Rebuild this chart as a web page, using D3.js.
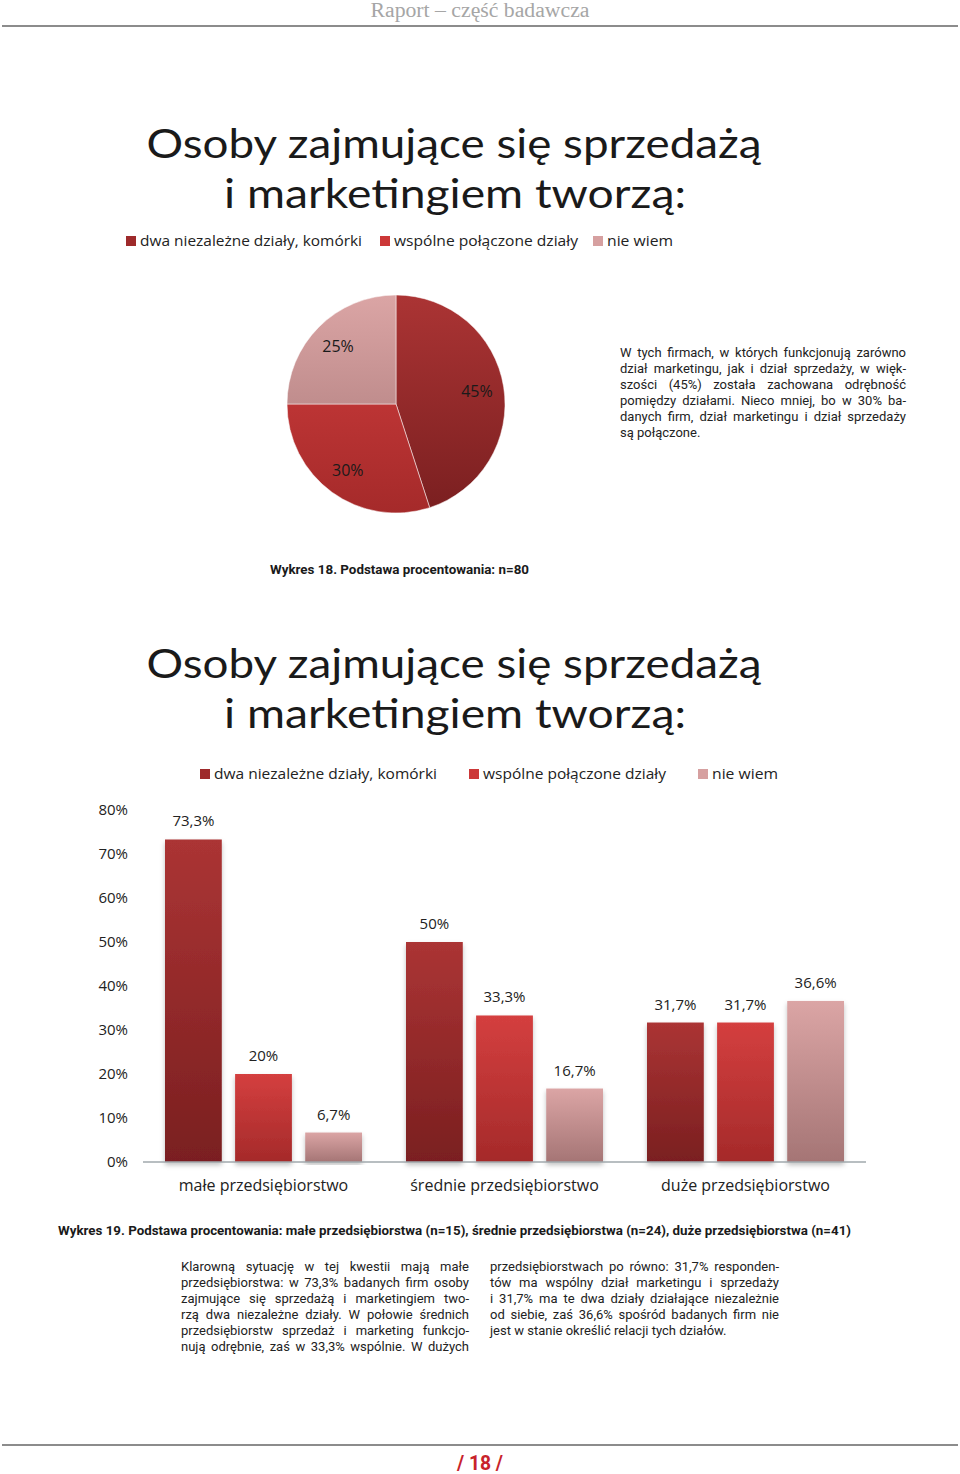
<!DOCTYPE html>
<html><head><meta charset="utf-8">
<script src="https://cdn.jsdelivr.net/npm/d3@7"></script>
<style>body{margin:0;background:#fff}svg{display:block}</style>
</head><body>
<script>
// ---- data ----
const pieLabels = ["dwa niezależne działy, komórki", "wspólne połączone działy", "nie wiem"];
const pieValues = [45, 30, 25];
const categories = ["małe przedsiębiorstwo", "średnie przedsiębiorstwo", "duże przedsiębiorstwo"];
const seriesNames = ["dwa niezależne działy, komórki", "wspólne połączone działy", "nie wiem"];
const seriesIndependent = [73.3, 50, 31.7];
const seriesJoint = [20, 33.3, 31.7];
const seriesUnknown = [6.7, 16.7, 36.6];
const yTicks = [0, 10, 20, 30, 40, 50, 60, 70, 80];
const fmt = v => String(v).replace(".", ",") + "%";

const W = 960, H = 1474;
const svg = d3.select("body").append("svg").attr("width", W).attr("height", H);
const defs = svg.append("defs");

const colTop = ["#ab3434", "#d43f3f", "#dba5a5"];
const colBot = ["#7a1f20", "#a52a2a", "#a57575"];
const legendCol = ["#9e2a2b", "#cc3838", "#d6a0a0"];
colTop.forEach((c, i) => {
  const g = defs.append("linearGradient").attr("id", "bg" + i).attr("x1", 0).attr("y1", 0).attr("x2", 0).attr("y2", 1);
  g.append("stop").attr("offset", "0%").attr("stop-color", c);
  g.append("stop").attr("offset", "100%").attr("stop-color", colBot[i]);
});
const sh = defs.append("filter").attr("id", "shadow").attr("x", "-20%").attr("y", "-5%").attr("width", "140%").attr("height", "115%");
sh.append("feDropShadow").attr("dx", 0).attr("dy", 3).attr("stdDeviation", 2.5).attr("flood-color", "#000").attr("flood-opacity", 0.25);

// ---- header / footer ----
svg.append("text").attr("x", 480).attr("y", 17).attr("text-anchor", "middle")
  .attr("font-family", "Liberation Serif").attr("font-size", 20).attr("fill", "#a6a6a6")
  .attr("textLength", 219).attr("lengthAdjust", "spacingAndGlyphs").text("Raport – część badawcza");
svg.append("line").attr("x1", 2).attr("x2", 958).attr("y1", 26).attr("y2", 26).attr("stroke", "#8c8c8c").attr("stroke-width", 2);
svg.append("line").attr("x1", 2).attr("x2", 958).attr("y1", 1445).attr("y2", 1445).attr("stroke", "#8c8c8c").attr("stroke-width", 2);
svg.append("text").attr("x", 480).attr("y", 1470).attr("text-anchor", "middle")
  .attr("font-family", "Roboto").attr("font-weight", 700).attr("font-size", 20).attr("fill", "#c8232b")
  .attr("textLength", 46).attr("lengthAdjust", "spacingAndGlyphs").text("/ 18 /");

// ---- titles ----
function title(y) {
  svg.append("text").attr("x", 454).attr("y", y).attr("text-anchor", "middle")
    .attr("font-family", "Lato").attr("font-weight", 400).attr("font-size", 41).attr("fill", "#1a1a1a")
    .attr("textLength", 615).attr("lengthAdjust", "spacingAndGlyphs").text("Osoby zajmujące się sprzedażą");
  svg.append("text").attr("x", 455).attr("y", y + 50).attr("text-anchor", "middle")
    .attr("font-family", "Lato").attr("font-weight", 400).attr("font-size", 41).attr("fill", "#1a1a1a")
    .attr("textLength", 462).attr("lengthAdjust", "spacingAndGlyphs").text("i marketingiem tworzą:");
}
title(158);
title(678);

// ---- legend helper ----
function legend(y, xs, widths, names) {
  names.forEach((n, i) => {
    svg.append("rect").attr("x", xs[i]).attr("y", y - 10).attr("width", 10).attr("height", 10).attr("fill", legendCol[i]);
    svg.append("text").attr("x", xs[i] + 14).attr("y", y).attr("font-family", "Open Sans").attr("font-size", 15)
      .attr("fill", "#222").attr("textLength", widths[i]).attr("lengthAdjust", "spacingAndGlyphs").text(n);
  });
}
legend(246, [126, 380, 593], [222, 184, 66], pieLabels);

// ---- pie ----
const cx = 396, cy = 404, R = 109;
const pieGen = d3.pie().sort(null).value(d => d);
const arc = d3.arc().innerRadius(0).outerRadius(R);
const labelArc = d3.arc().innerRadius(82).outerRadius(82);
colTop.forEach((c, i) => {
  const g = defs.append("linearGradient").attr("id", "pg" + i).attr("gradientUnits", "userSpaceOnUse")
    .attr("x1", 0).attr("y1", -R).attr("x2", 0).attr("y2", R);
  g.append("stop").attr("offset", "0%").attr("stop-color", c);
  g.append("stop").attr("offset", "100%").attr("stop-color", colBot[i]);
});
const pg = svg.append("g").attr("transform", `translate(${cx},${cy})`);
const arcs = pieGen(pieValues);
pg.selectAll("path").data(arcs).enter().append("path").attr("d", arc)
  .attr("fill", (d, i) => `url(#pg${i})`).attr("stroke", "#fff").attr("stroke-width", 0.5);
pg.selectAll("text").data(arcs).enter().append("text")
  .attr("x", d => labelArc.centroid(d)[0]).attr("y", d => labelArc.centroid(d)[1] + 6)
  .attr("text-anchor", "middle").attr("font-family", "Open Sans").attr("font-size", 16).attr("fill", "#1a1a1a")
  .text(d => d.data + "%");

// ---- justified paragraphs ----
function para(x, y, width, lines, lastJustified, size, lh) {
  lines.forEach((ln, li) => {
    const words = ln.split(" ");
    const yy = y + li * lh;
    const justify = li < lines.length - 1 || lastJustified;
    if (!justify) {
      svg.append("text").attr("x", x).attr("y", yy).attr("font-family", "Roboto").attr("font-size", size)
        .attr("fill", "#222").text(ln);
      return;
    }
    const ws = words.map(w => {
      const t = svg.append("text").attr("font-family", "Roboto").attr("font-size", size).text(w);
      const l = t.node().getComputedTextLength(); t.remove(); return l;
    });
    const total = d3.sum(ws);
    const gap = (width - total) / Math.max(1, words.length - 1);
    let cxp = x;
    words.forEach((w, wi) => {
      svg.append("text").attr("x", cxp).attr("y", yy).attr("font-family", "Roboto").attr("font-size", size)
        .attr("fill", "#222").text(w);
      cxp += ws[wi] + gap;
    });
  });
}
para(620, 357, 286, [
  "W tych firmach, w których funkcjonują zarówno",
  "dział marketingu, jak i dział sprzedaży, w więk-",
  "szości (45%) została zachowana odrębność",
  "pomiędzy działami. Nieco mniej, bo w 30% ba-",
  "danych firm, dział marketingu i dział sprzedaży",
  "są połączone."], false, 13, 16);

// ---- captions ----
svg.append("text").attr("x", 270).attr("y", 574).attr("font-family", "Roboto").attr("font-weight", 700)
  .attr("font-size", 13).attr("fill", "#1a1a1a").attr("textLength", 259).attr("lengthAdjust", "spacingAndGlyphs")
  .text("Wykres 18. Podstawa procentowania: n=80");
svg.append("text").attr("x", 58).attr("y", 1235).attr("font-family", "Roboto").attr("font-weight", 700)
  .attr("font-size", 13).attr("fill", "#1a1a1a").attr("textLength", 793).attr("lengthAdjust", "spacingAndGlyphs")
  .text("Wykres 19. Podstawa procentowania: małe przedsiębiorstwa (n=15), średnie przedsiębiorstwa (n=24), duże przedsiębiorstwa (n=41)");

// ---- bar chart ----
legend(779, [200, 469, 698], [223, 183, 66], seriesNames);
const y = d3.scaleLinear().domain([0, 80]).range([1162, 810]);
const x0 = d3.scaleBand().domain(categories).range([143, 866]).paddingInner(0).paddingOuter(0);
const x1 = d3.scaleBand().domain([0, 1, 2]).range([22, 219]).paddingInner(0.19).paddingOuter(0);
const series = [seriesIndependent, seriesJoint, seriesUnknown];

svg.append("g").selectAll("text").data(yTicks).enter().append("text")
  .attr("x", 128).attr("y", d => y(d) + 5).attr("text-anchor", "end")
  .attr("font-family", "Open Sans").attr("font-size", 15).attr("fill", "#222").text(d => d + "%");

const bg = svg.append("g");
categories.forEach((c, ci) => {
  series.forEach((s, si) => {
    const v = s[ci];
    const bx = x0(c) + x1(si);
    bg.append("rect").attr("x", bx).attr("y", y(v)).attr("width", x1.bandwidth()).attr("height", y(0) - y(v))
      .attr("fill", `url(#bg${si})`).attr("filter", "url(#shadow)");
    bg.append("text").attr("x", bx + x1.bandwidth() / 2).attr("y", y(v) - 13).attr("text-anchor", "middle")
      .attr("font-family", "Open Sans").attr("font-size", 15).attr("fill", "#222").text(fmt(v));
  });
});
svg.append("line").attr("x1", 143).attr("x2", 866).attr("y1", y(0)).attr("y2", y(0)).attr("stroke", "#a0a8ad").attr("stroke-width", 1.5);
svg.append("g").selectAll("text").data(categories).enter().append("text")
  .attr("x", d => x0(d) + x0.bandwidth() / 2).attr("y", 1191).attr("text-anchor", "middle")
  .attr("font-family", "Open Sans").attr("font-size", 16).attr("fill", "#222").text(d => d);

para(181, 1271, 288, [
  "Klarowną sytuację w tej kwestii mają małe",
  "przedsiębiorstwa: w 73,3% badanych firm osoby",
  "zajmujące się sprzedażą i marketingiem two-",
  "rzą dwa niezależne działy. W połowie średnich",
  "przedsiębiorstw sprzedaż i marketing funkcjo-",
  "nują odrębnie, zaś w 33,3% wspólnie. W dużych"], true, 13, 16);
para(490, 1271, 289, [
  "przedsiębiorstwach po równo: 31,7% responden-",
  "tów ma wspólny dział marketingu i sprzedaży",
  "i 31,7% ma te dwa działy działające niezależnie",
  "od siebie, zaś 36,6% spośród badanych firm nie",
  "jest w stanie określić relacji tych działów."], false, 13, 16);
</script>
</body></html>
